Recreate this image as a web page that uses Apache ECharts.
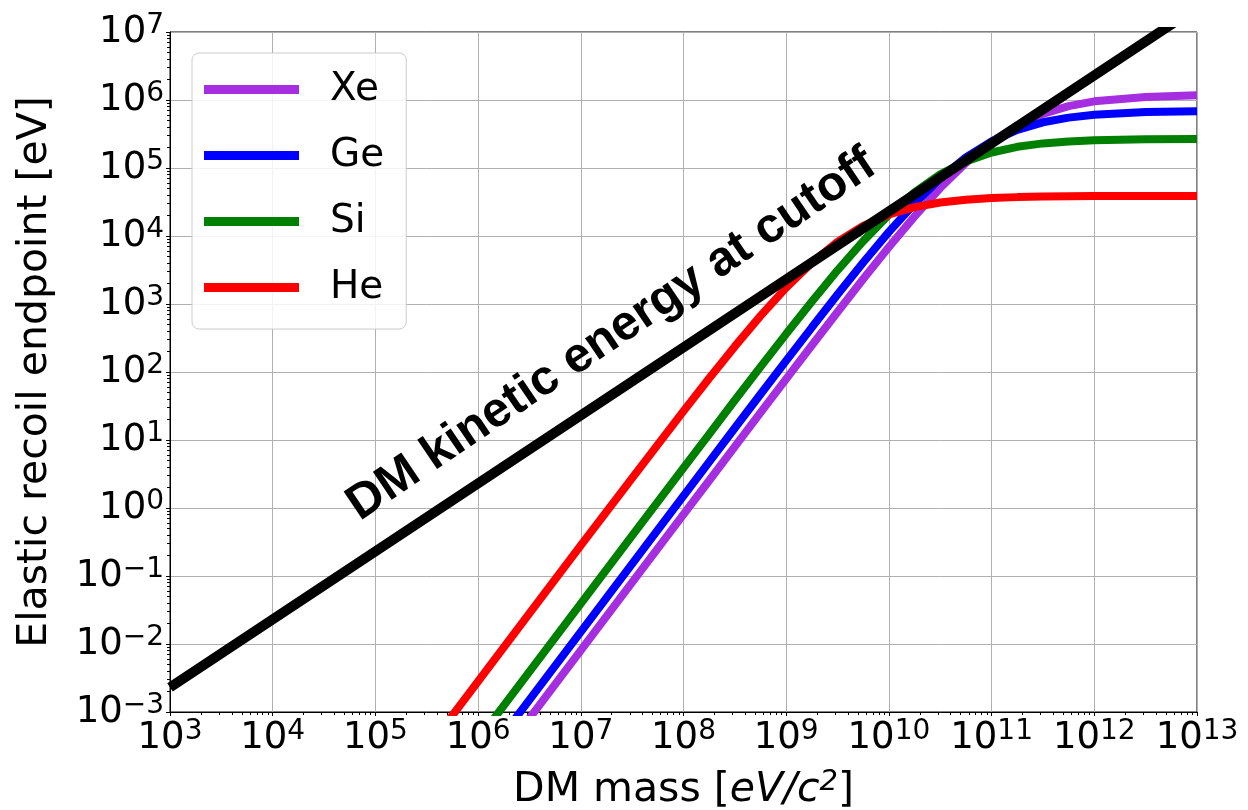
<!DOCTYPE html>
<html>
<head>
<meta charset="utf-8">
<script src="https://cdn.jsdelivr.net/npm/echarts@6/dist/echarts.min.js"></script>
<style>
  html, body { margin: 0; padding: 0; background: #fff; }
  #chart { width: 1248px; height: 810px; }
</style>
</head>
<body>
<div id="chart"></div>
<script>
// DM mass grid [eV/c^2] shared by the four targets
const massValues = [3.16e5, 1e6, 3.16e6, 1e7, 3.16e7, 1e8, 1.78e8, 3.16e8, 5.62e8, 1e9, 1.78e9, 3.16e9,
  5.62e9, 1e10, 1.78e10, 3.16e10, 5.62e10, 1e11, 1.78e11, 3.16e11, 5.62e11, 1e12, 3.16e12, 1e13]

// elastic recoil endpoint [eV]
const xeValues = [8.05e-6, 8.05e-5, 8.05e-4, 8.05e-3, 8.05e-2, 0.804, 2.54, 8.0, 25.2, 79.3, 247, 764,
  2330, 6890, 19400, 50800, 119000, 243000, 423000, 625000, 811000, 955000, 1110000, 1170000]
const geValues = [1.51e-5, 1.51e-4, 1.51e-3, 1.51e-2, 0.151, 1.51, 4.76, 15.0, 47.1, 147, 454, 1380,
  4080, 11500, 30000, 70300, 143000, 246000, 363000, 470000, 551000, 607000, 664000, 682000]
const siValues = [3.93e-5, 3.93e-4, 3.93e-3, 3.93e-2, 0.392, 3.9, 12.2, 38.4, 119, 364, 1090, 3130,
  8410, 20600, 44100, 80500, 125000, 169000, 205000, 230000, 245000, 256000, 265000, 268000]
const heValues = [2.82e-4, 2.82e-3, 2.82e-2, 0.282, 2.75, 26.6, 80.9, 238, 670, 1740, 4060, 8200,
  14100, 20700, 26600, 31100, 34200, 36100, 37300, 38000, 38400, 38600, 38800, 38900]

// DM kinetic energy at cutoff (straight line)
const cutoffMass = [1e3, 1e5, 1e7, 1e9, 1e11, 1e13]
const cutoffEnergy = [2.3e-3, 0.23, 23, 2300, 2.3e5, 2.3e7]

const targetNames = ['Xe', 'Ge', 'Si', 'He']
const targetColors = ['#a52fe0', '#0000ff', '#008000', '#ff0000']
const targetValues = [xeValues, geValues, siValues, heValues]

const chart = echarts.init(document.getElementById('chart'))

function pairs(xs, ys) {
  return xs.map((x, i) => [x, ys[i]])
}

// 10^n label with a raised exponent
function powLabel(v) {
  const n = Math.round(Math.log10(v))
  const exp = n < 0 ? '\u2212' + Math.abs(n) : String(n)
  return '{b|10}{s|' + exp + '}'
}

const labelRich = {
  b: { fontSize: 37, fontFamily: 'DejaVu Sans', color: '#000', lineHeight: 40 },
  s: { fontSize: 28, fontFamily: 'DejaVu Sans', color: '#000', lineHeight: 28, verticalAlign: 'top', padding: [0, 0, 16, 0] }
}

const series = targetNames.map((name, i) => ({
  name: name,
  type: 'line',
  data: pairs(massValues, targetValues[i]),
  showSymbol: false,
  clip: true,
  lineStyle: { color: targetColors[i], width: 8 },
  itemStyle: { color: targetColors[i] },
  z: 2 + i
}))

series.push({
  name: 'cutoff',
  type: 'line',
  data: pairs(cutoffMass, cutoffEnergy),
  showSymbol: false,
  clip: true,
  lineStyle: { color: '#000', width: 10 },
  itemStyle: { color: '#000' },
  z: 10
})

const option = {
  animation: false,
  backgroundColor: '#fff',
  grid: {
    left: 170,
    right: 51,
    top: 32,
    bottom: 98,
    outerBoundsMode: 'none',
    show: true,
    borderColor: '#000',
    borderWidth: 1
  },
  legend: {
    data: targetNames,
    orient: 'vertical',
    left: 192,
    top: 53,
    icon: 'rect',
    itemWidth: 95,
    itemHeight: 9,
    itemGap: 27,
    padding: [17, 22, 22, 12],
    backgroundColor: 'rgba(255,255,255,0.85)',
    borderColor: '#cccccc',
    borderWidth: 1,
    borderRadius: 7,
    textStyle: {
      fontSize: 39,
      fontFamily: 'DejaVu Sans',
      color: '#000',
      lineHeight: 36,
      padding: [0, 0, 0, 26]
    }
  },
  xAxis: {
    type: 'log',
    logBase: 10,
    min: 1e3,
    max: 1e13,
    interval: 1,
    name: '{n|DM mass [}{i|eV/c}{s|2}{n|]}',
    nameLocation: 'middle',
    nameGap: 56,
    nameTextStyle: {
      rich: {
        n: { fontSize: 41, fontFamily: 'DejaVu Sans', color: '#000', lineHeight: 44 },
        i: { fontSize: 41, fontFamily: 'DejaVu Sans', fontStyle: 'italic', color: '#000', lineHeight: 44 },
        s: { fontSize: 29, fontFamily: 'DejaVu Sans', fontStyle: 'italic', color: '#000', lineHeight: 29, verticalAlign: 'top', padding: [0, 0, 16, 0] }
      }
    },
    axisLine: { show: true, lineStyle: { color: '#000', width: 1 } },
    axisTick: { show: true, inside: false, length: 4, lineStyle: { color: '#000' } },
    minorTick: { show: true, splitNumber: 9, length: 3, lineStyle: { color: '#000' } },
    axisLabel: { formatter: powLabel, rich: labelRich, margin: 6 },
    splitLine: { show: true, lineStyle: { color: '#b0b0b0', width: 1 } }
  },
  yAxis: {
    type: 'log',
    logBase: 10,
    min: 1e-3,
    max: 1e7,
    interval: 1,
    name: 'Elastic recoil endpoint [eV]',
    nameLocation: 'middle',
    nameRotate: 90,
    nameGap: 114,
    nameTextStyle: { fontSize: 41, fontFamily: 'DejaVu Sans', color: '#000' },
    axisLine: { show: true, lineStyle: { color: '#000', width: 1 } },
    axisTick: { show: true, inside: false, length: 4, lineStyle: { color: '#000' } },
    minorTick: { show: true, splitNumber: 9, length: 3, lineStyle: { color: '#000' } },
    axisLabel: { formatter: powLabel, rich: labelRich, margin: 6 },
    splitLine: { show: true, lineStyle: { color: '#b0b0b0', width: 1 } }
  },
  series: series
}

chart.setOption(option)

// annotation along the black line, anchored in data space
const anchor = chart.convertToPixel({ gridIndex: 0 }, [2e7, 350])
chart.setOption({
  graphic: [{
    type: 'text',
    x: anchor[0],
    y: anchor[1],
    rotation: 34 * Math.PI / 180,
    z: 20,
    style: {
      text: 'DM kinetic energy at cutoff',
      font: 'bold 49px "Liberation Sans", Arial, sans-serif',
      fill: '#000',
      align: 'center',
      verticalAlign: 'middle'
    }
  }]
})
</script>
</body>
</html>
